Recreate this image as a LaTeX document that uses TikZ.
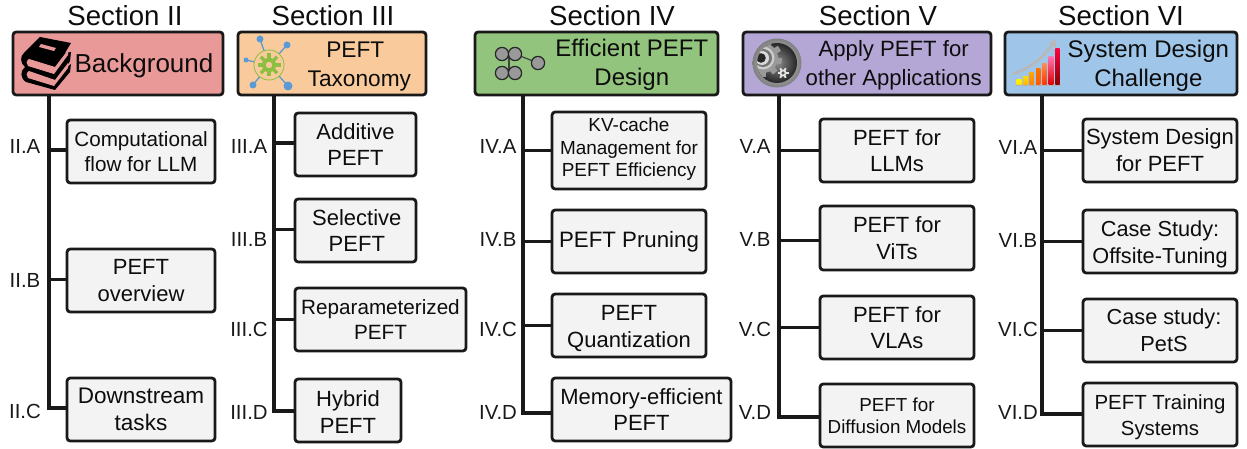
\documentclass[tikz,border=0pt]{standalone}
\usepackage{fontspec}
\setmainfont{Liberation Sans}
\definecolor{redh}{HTML}{EA9999}
\definecolor{orangeh}{HTML}{F9CB9C}
\definecolor{greenh}{HTML}{93C47D}
\definecolor{purpleh}{HTML}{B4A7D6}
\definecolor{blueh}{HTML}{9FC5E8}
\definecolor{childf}{HTML}{F3F3F3}
\definecolor{netblue}{HTML}{5B9BD5}
\definecolor{gearg}{HTML}{8CBF3F}
\tikzset{
  fs/.style 2 args={font=\fontsize{#1}{#2}\selectfont},
  boxbase/.style={draw=black!90,line width=2.1pt,rounded corners=2.4pt,align=center,inner sep=0pt,text=black!95,outer sep=0pt},
  child/.style={boxbase,fill=childf},
  head/.style={boxbase},
  conn/.style={draw=black!90,line width=2.3pt,line cap=butt,line join=miter},
  title/.style={fs={20.7}{24},inner sep=0pt,text=black!95},
  tag/.style={fs={15.3}{18},inner sep=0pt,text=black!90},
}
\newcommand\up[1]{\rule{0pt}{#1pt}}
\newcommand\pbox[7][]{\node[#1,minimum width={(#5-#3)*0.75pt},minimum height={(#6-#4)*0.75pt}] (#2) at ({(#3+#5)/2},{(#4+#6)/2}) {#7};}
\begin{document}
\begin{tikzpicture}[x=0.75pt,y=-0.75pt]
\useasboundingbox (0,0) rectangle (1247,449);
\fill[white] (0,0) rectangle (1247,449);

% spine tops
\coordinate (s2) at (49,95);
\coordinate (s3) at (274,95);
\coordinate (s4) at (523,95);
\coordinate (s5) at (779,95);
\coordinate (s6) at (1042,95);

% connectors (under the boxes)
\coordinate (e2) at (67,408);
\coordinate (e3) at (295,411);
\coordinate (e4) at (552,413);
\coordinate (e5) at (820,417);
\coordinate (e6) at (1083,414);
\draw[conn] (s2) |- (e2);
\draw[conn] (s3) |- (e3);
\draw[conn] (s4) |- (e4);
\draw[conn] (s5) |- (e5);
\draw[conn] (s6) |- (e6);

% titles
\node[title] (t2) at (125,16) {Section II};
\node[title] (t3) at (333,16) {Section III};
\node[title] (t4) at (612,16) {Section IV};
\node[title] (t5) at (878,16) {Section V};
\node[title] (t6) at (1121,16) {Section VI};

% headers
\pbox[head,fill=redh,fs={19.5}{24}]{h2}{13}{32}{223}{95}{\up{18}\hspace*{39pt}Background}
\pbox[head,fill=orangeh,fs={17}{21.8}]{h3}{238}{32}{426}{95}{\up{16}\hspace*{35pt}PEFT\\\hspace*{41pt}Taxonomy}
\pbox[head,fill=greenh,fs={18}{21.6}]{h4}{475}{32}{718}{95}{\up{15.5}\hspace*{53pt}Efficient PEFT\\\hspace*{53pt}Design}
\pbox[head,fill=purpleh,fs={16.6}{21.7}]{h5}{743}{32}{991}{95}{\up{15}\hspace*{40pt}Apply PEFT for\\\hspace*{40pt}other Applications}
\pbox[head,fill=blueh,fs={18}{21.7}]{h6}{1005}{32}{1237}{95}{\up{17}\hspace*{41pt}System Design\\\hspace*{41pt}Challenge}

% section II
\pbox[child,fs={15.5}{19}]{a2}{67}{120}{215}{183}{Computational\\flow for LLM}
\pbox[child,fs={16.5}{20}]{b2}{67}{249}{215}{312}{PEFT\\overview}
\pbox[child,fs={16.9}{20.3}]{c2}{67}{378}{215}{441}{Downstream\\tasks}
% section III
\pbox[child,fs={16.5}{20}]{a3}{295}{113}{416}{176}{Additive\\PEFT}
\pbox[child,fs={16.5}{20}]{b3}{295}{199}{416}{262}{\hspace*{2pt}Selective\\\hspace*{2pt}PEFT}
\pbox[child,fs={15.5}{18.5}]{c3}{295}{288}{466}{351}{Reparameterized\\PEFT}
\pbox[child,fs={16.5}{20}]{d3}{295}{379}{401}{442}{\up{14}Hybrid\\PEFT}
% section IV
\pbox[child,fs={14.2}{17}]{a4}{552}{112}{706}{189}{KV-cache\\Management for\\PEFT Efficiency\rule[-5pt]{0pt}{5pt}}
\pbox[child,fs={16.7}{20}]{b4}{552}{210}{706}{273}{PEFT Pruning}
\pbox[child,fs={16.5}{20.3}]{c4}{552}{294}{706}{357}{\up{15.8}PEFT\\Quantization}
\pbox[child,fs={16.5}{20}]{d4}{552}{378}{731}{441}{Memory-efficient\\PEFT}
% section V
\pbox[child,fs={16.5}{20}]{a5}{820}{119}{974}{182}{PEFT for\\LLMs}
\pbox[child,fs={16.5}{20}]{b5}{820}{206}{974}{270}{PEFT for\\ViTs}
\pbox[child,fs={16.5}{20}]{c5}{820}{296}{974}{359}{PEFT for\\VLAs}
\pbox[child,fs={14.1}{16.5}]{d5}{820}{384}{974}{447}{PEFT for\\Diffusion Models}
% section VI
\pbox[child,fs={16.5}{20.3}]{a6}{1083}{119}{1237}{182}{System Design\\for PEFT}
\pbox[child,fs={16.3}{20.5}]{b6}{1083}{210}{1237}{273}{\up{16.5}Case Study:\\Offsite-Tuning}
\pbox[child,fs={16.3}{20.5}]{c6}{1083}{299}{1237}{362}{\hspace*{6pt}Case study:\\\hspace*{6pt}PetS}
\pbox[child,fs={15.3}{19.5}]{d6}{1083}{383}{1237}{446}{\up{15}PEFT Training\\Systems}

% branch connectors
\draw[conn] ([yshift=1.1pt]s2 |- a2.west) -- ([yshift=1.1pt]a2.west);
\draw[conn] ([yshift=0.8pt]s2 |- b2.west) -- ([yshift=0.8pt]b2.west);
\draw[conn] ([yshift=1.1pt]s3 |- a3.west) -- ([yshift=1.1pt]a3.west);
\draw[conn] ([yshift=0.4pt]s3 |- b3.west) -- ([yshift=0.4pt]b3.west);
\draw[conn] (s3 |- c3.west) -- (c3.west);
\draw[conn] (s4 |- a4.west) -- (a4.west);
\draw[conn] (s4 |- b4.west) -- (b4.west);
\draw[conn] (s4 |- c4.west) -- (c4.west);
\draw[conn] (s5 |- a5.west) -- (a5.west);
\draw[conn] ([yshift=-2.2pt]s5 |- b5.west) -- ([yshift=-2.2pt]b5.west);
\draw[conn] (s5 |- c5.west) -- (c5.west);
\draw[conn] (s6 |- a6.west) -- (a6.west);
\draw[conn] (s6 |- b6.west) -- (b6.west);
\draw[conn] (s6 |- c6.west) -- (c6.west);

% section labels
\node[tag] (l2a) at (25,146) {II.A};
\node[tag] (l2b) at (25,280) {II.B};
\node[tag] (l2c) at (25,411) {II.C};
\node[tag] (l3a) at (249,146) {III.A};
\node[tag] (l3b) at (249,239) {III.B};
\node[tag] (l3c) at (249,329) {III.C};
\node[tag] (l3d) at (249,412) {III.D};
\node[tag] (l4a) at (498,146) {IV.A};
\node[tag] (l4b) at (498,239) {IV.B};
\node[tag] (l4c) at (498,329) {IV.C};
\node[tag] (l4d) at (498,412) {IV.D};
\node[tag] (l5a) at (755,146) {V.A};
\node[tag] (l5b) at (755,239) {V.B};
\node[tag] (l5c) at (755,329) {V.C};
\node[tag] (l5d) at (755,412) {V.D};
\node[tag] (l6a) at (1018,147) {VI.A};
\node[tag] (l6b) at (1018,240) {VI.B};
\node[tag] (l6c) at (1018,329) {VI.C};
\node[tag] (l6d) at (1018,412) {VI.D};

% --- icon: books
\fill[black] (40,37) -- (71,43) -- (65,53) -- (71,52) -- (70,61) -- (65,69) -- (71,64) -- (70,72) -- (55,90) -- (26,82)
  .. controls (20,78) and (20,71) .. (25,67) .. controls (20,63) and (20,56) .. (24,53) -- cycle;
\fill[redh] (29,59) -- (55,67) -- (68,50) -- (68,55) -- (54,74) -- (28,66) .. controls (26,64) and (26,61) .. (29,59) -- cycle;
\fill[redh] (29,71) -- (55,80) -- (68,63) -- (68,68) -- (54,86) -- (28,78) .. controls (26,76) and (26,73) .. (29,71) -- cycle;
\fill[redh] (41,44) -- (56,48) -- (54,51) -- (39,47) -- cycle;

% --- icon: network gear
\foreach \px/\py/\r in {260/39/3.5,287/45/3.5,246/60/2.5,253/85/3.5,288/86/4.5}{
  \draw[netblue,line width=1pt] (269,65) -- (\px,\py);
  \fill[netblue] (\px,\py) circle[radius=\r];
}
\fill[orangeh] (269,65) circle[radius=15];
\draw[gearg,line width=0.6pt] (269,65) circle[radius=15];
\foreach \a in {0,45,...,315}{
  \draw[gearg,line width=2.6pt] (269,65) ++(\a:6) -- ++(\a:5.5);
}
\draw[gearg,line width=3pt] (269,65) circle[radius=5.5];

% --- icon: neural cells
\draw[black!75,line width=0.9pt] (509,56) -- (509,72);
\draw[black!75,line width=0.9pt] (515,54) -- (538,63);
\foreach \px/\py in {502/54,515/54,502/73,515/73,538/63}{
  \draw[black!85,fill=black!40,line width=0.9pt] (\px,\py) circle[radius=6.6];
}

% --- icon: gear disc
\shade[outer color=black!50,inner color=black!15] (777,63) circle[radius=24.5];
\shade[inner color=black!45,outer color=black!85] (777,63) circle[radius=20];
\begin{scope}
  \clip (777,63) circle[radius=20];
  \foreach \a in {10,50,...,350}{
    \draw[black!40,line width=4.5pt] (763,58) ++(\a:14) -- ++(\a:5);
  }
  \fill[black!40] (763,58) circle[radius=15];
  \fill[black!20] (763,58) circle[radius=11.5];
  \fill[black!55] (763,58) circle[radius=9];
  \fill[black!15] (762,58) circle[radius=7];
  \fill[black!85] (761,58) circle[radius=4.8];
\end{scope}
\foreach \a in {0,60,...,300}{
  \draw[black!10,line width=1.4pt] (783,73) ++(\a:2.5) -- ++(\a:3);
}
\draw[black!10,line width=1.3pt] (783,73) circle[radius=2.6];

% --- icon: bar chart
\draw[black!28,line width=2pt] (1013,74) .. controls (1030,68) and (1043,58) .. (1052,45);
\fill[black!28] (1056,39) -- (1056,48) -- (1049,43) -- cycle;
\draw[black!30,line width=0.5pt] (1015,85.2) -- (1061,85.2);
\shade[top color=yellow!90!orange,bottom color=yellow!75!orange] (1016.7,80) rectangle (1021.3,85);
\shade[top color=yellow!70!orange,bottom color=orange!60!yellow] (1023,76.7) rectangle (1027.3,85);
\shade[top color=orange!70!yellow,bottom color=orange] (1029.3,72.7) rectangle (1033.7,85);
\shade[top color=orange!90!red,bottom color=orange!70!red] (1036,68.7) rectangle (1040.3,85);
\shade[top color=red!30!orange!70!white,bottom color=red!60!orange] (1042.3,64) rectangle (1046.7,85);
\shade[top color=red!60!magenta!55!white,bottom color=red!85!black] (1048.7,57) rectangle (1053.3,85);
\shade[top color=red!75!magenta,bottom color=red!55!black] (1055.3,48.3) rectangle (1059.7,85);
\end{tikzpicture}
\end{document}
